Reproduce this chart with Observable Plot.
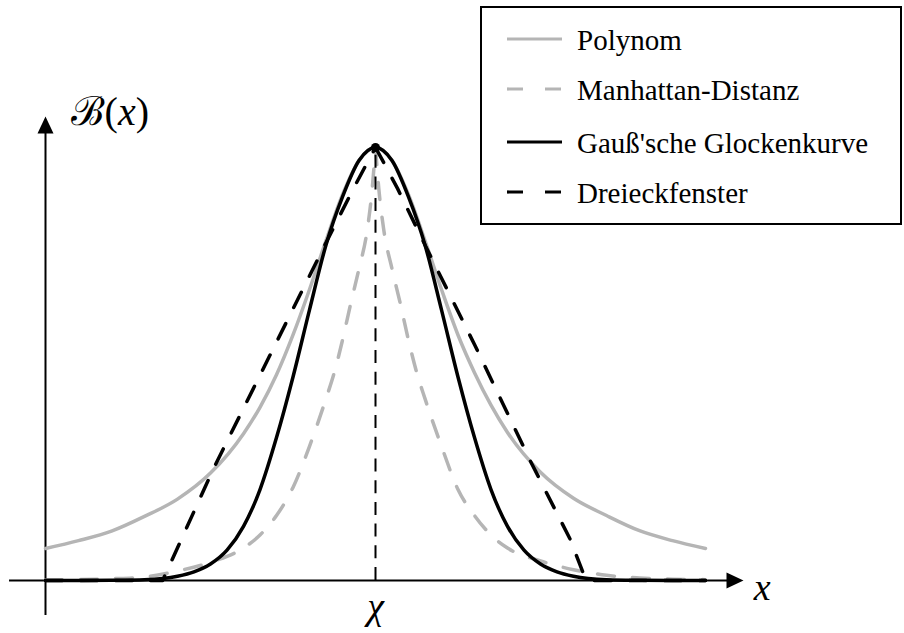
<!DOCTYPE html>
<html><head><meta charset="utf-8">
<script src="https://cdn.jsdelivr.net/npm/d3@7"></script>
<script src="https://cdn.jsdelivr.net/npm/@observablehq/plot@0.6"></script>
<style>
html,body{margin:0;padding:0;background:#fff;}
#chart{position:relative;width:904px;height:633px;overflow:hidden;}
#chart svg{display:block;}
#legend{position:absolute;left:480px;top:6px;}
</style></head><body><div id="chart"></div>
<script>
// ---- data ----
const polyX = [-1,-0.9,-0.8,-0.7,-0.6,-0.5,-0.4,-0.35,-0.3,-0.25,-0.2,-0.15,-0.1,-0.05,0,0.05,0.1,0.15,0.2,0.25,0.3,0.35,0.4,0.5,0.6,0.7,0.8,0.9,1];
const polyY = [0.074,0.092,0.114,0.148,0.188,0.248,0.339,0.40,0.475,0.567,0.672,0.785,0.891,0.97,1,0.97,0.891,0.785,0.672,0.567,0.48,0.405,0.342,0.25,0.19,0.15,0.115,0.092,0.074];

const gaussX = [-1,-0.9,-0.8,-0.7,-0.6,-0.55,-0.5,-0.45,-0.4,-0.35,-0.3,-0.25,-0.2,-0.15,-0.1,-0.05,0,0.05,0.1,0.15,0.2,0.25,0.3,0.35,0.4,0.45,0.5,0.55,0.6,0.7,0.8,0.9,1];
const gaussY = [0,0,0.0005,0.002,0.01,0.02,0.038,0.07,0.125,0.21,0.33,0.47,0.625,0.775,0.886,0.97,1,0.97,0.886,0.775,0.625,0.47,0.33,0.21,0.125,0.07,0.038,0.02,0.01,0.002,0.0005,0,0];

const manhLeftX  = [-1,-0.9,-0.8,-0.7,-0.6,-0.5,-0.4,-0.35,-0.3,-0.25,-0.2,-0.15,-0.125,-0.1,-0.075,-0.05,-0.025,-0.01,0];
const manhLeftY  = [0.001,0.002,0.004,0.008,0.022,0.042,0.075,0.105,0.15,0.215,0.31,0.42,0.48,0.555,0.64,0.72,0.81,0.905,1];
const manhRightX = [0,0.01,0.025,0.05,0.075,0.1,0.125,0.15,0.2,0.25,0.3,0.35,0.4,0.5,0.6,0.7,0.8,0.9,1];
const manhRightY = [1,0.905,0.81,0.72,0.64,0.555,0.48,0.42,0.31,0.21,0.15,0.105,0.075,0.045,0.025,0.012,0.006,0.003,0.002];

const triLeftX  = [-1,-0.645,-0.49,-0.32,-0.15,-0.067,-0.025,0];
const triLeftY  = [0,0,0.26,0.52,0.78,0.905,0.965,1];
const triRightX = [0,0.025,0.067,0.15,0.3,0.47,0.59,0.638,1];
const triRightY = [1,0.965,0.905,0.775,0.545,0.275,0.095,0,0];

const xAxisExtent = [-1.109, 1.09];
const yAxisExtent = [-0.081, 1.04];
const xArrowTip = [{x: 1.1152, y: 0}];
const yArrowTip = [{x: -1, y: 1.0716}];
const peak = [{x: 0, y: 1}];

const legendNames  = ["Polynom", "Manhattan-Distanz", "Gauß'sche Glockenkurve", "Dreieckfenster"];
const legendColors = ["#b5b5b5", "#b5b5b5", "#000000", "#000000"];
const legendDashes = [null, "16,22", null, "16,22"];

const axisLabels = [{x: 1.172, y: -0.046, text: "x"}, {x: 0, y: -0.09, text: "χ"}];
const yLabel = [{x: -0.924, y: 1.052, text: "ℬ(x)"}];

// ---- build tables ----
const zip = (xs, ys, extra = {}) => xs.map((x, i) => ({x, y: ys[i], ...extra}));
const poly  = zip(polyX, polyY);
const gauss = zip(gaussX, gaussY);
const manh  = [...zip(manhLeftX, manhLeftY, {side: "L"}), ...zip(manhRightX, manhRightY, {side: "R"})];
const tri   = [...zip(triLeftX, triLeftY, {side: "L"}), ...zip(triRightX, triRightY, {side: "R"})];

const rightArrow = {draw(ctx) { ctx.moveTo(0, 0); ctx.lineTo(-17, -8); ctx.lineTo(-17, 8); ctx.closePath(); }};
const upArrow    = {draw(ctx) { ctx.moveTo(0, 0); ctx.lineTo(-8, 17); ctx.lineTo(8, 17); ctx.closePath(); }};

const gray = "#b5b5b5";
const serif = "'Liberation Serif', 'Times New Roman', 'DejaVu Serif', serif";
const sw = 3.5;

const plot = Plot.plot({
  width: 904, height: 633, margin: 0,
  x: {domain: [-375/330, 529/330], axis: null},
  y: {domain: [-53/433, 580/433], axis: null},
  style: {background: "white"},
  marks: [
    Plot.ruleY([0], {x1: xAxisExtent[0], x2: xAxisExtent[1], stroke: "black", strokeWidth: 2}),
    Plot.ruleX([-1], {y1: yAxisExtent[0], y2: yAxisExtent[1], stroke: "black", strokeWidth: 2}),
    Plot.dot(xArrowTip, {x: "x", y: "y", symbol: rightArrow, fill: "black", stroke: "none"}),
    Plot.dot(yArrowTip, {x: "x", y: "y", symbol: upArrow, fill: "black", stroke: "none"}),
    Plot.line(poly, {x: "x", y: "y", stroke: gray, strokeWidth: sw, curve: "monotone-x"}),
    Plot.line(manh, {x: "x", y: "y", z: "side", stroke: gray, strokeWidth: sw, strokeDasharray: "17,18", curve: "monotone-x"}),
    Plot.line(gauss, {x: "x", y: "y", stroke: "black", strokeWidth: sw, curve: "monotone-x"}),
    Plot.line(tri, {x: "x", y: "y", z: "side", stroke: "black", strokeWidth: sw, strokeDasharray: "17,18", curve: "linear"}),
    Plot.ruleX([0], {y1: 0, y2: 1, stroke: "black", strokeWidth: 2, strokeDasharray: "13,8.7"}),
    Plot.dot(peak, {x: "x", y: "y", r: 4.5, fill: "black", stroke: "none"}),
    Plot.text(axisLabels, {x: "x", y: "y", text: "text", fontFamily: serif, fontStyle: "italic", fontSize: 38, textAnchor: "middle", lineAnchor: "bottom", fill: "black"}),
    Plot.text(yLabel, {x: "x", y: "y", text: "text", fontFamily: serif, fontSize: 40, textAnchor: "start", lineAnchor: "bottom", fill: "black"})
  ]
});

const chart = document.getElementById("chart");
chart.appendChild(plot);

// mixed styling of the y label: script B upright, x italic
d3.select(plot).selectAll("text").filter(function() { return this.textContent === "ℬ(x)"; })
  .each(function() {
    const t = d3.select(this);
    t.text(null);
    t.append("tspan").text("ℬ(");
    t.append("tspan").attr("font-style", "italic").text("x");
    t.append("tspan").text(")");
  });

// legend
const lg = d3.select(chart).append("svg").attr("id", "legend").attr("width", 422).attr("height", 220);
lg.append("rect").attr("x", 1).attr("y", 1).attr("width", 420).attr("height", 217)
  .attr("fill", "white").attr("stroke", "black").attr("stroke-width", 2);
const rowSwatchY = [33, 83, 136, 186];
legendNames.forEach((name, i) => {
  lg.append("line").attr("x1", 27).attr("x2", 82).attr("y1", rowSwatchY[i]).attr("y2", rowSwatchY[i])
    .attr("stroke", legendColors[i]).attr("stroke-width", 3.2)
    .attr("stroke-dasharray", legendDashes[i]);
  lg.append("text").attr("x", 97).attr("y", rowSwatchY[i] + 11)
    .style("font-family", serif).attr("font-size", 29).attr("fill", "black").text(name);
});
</script></body></html>
